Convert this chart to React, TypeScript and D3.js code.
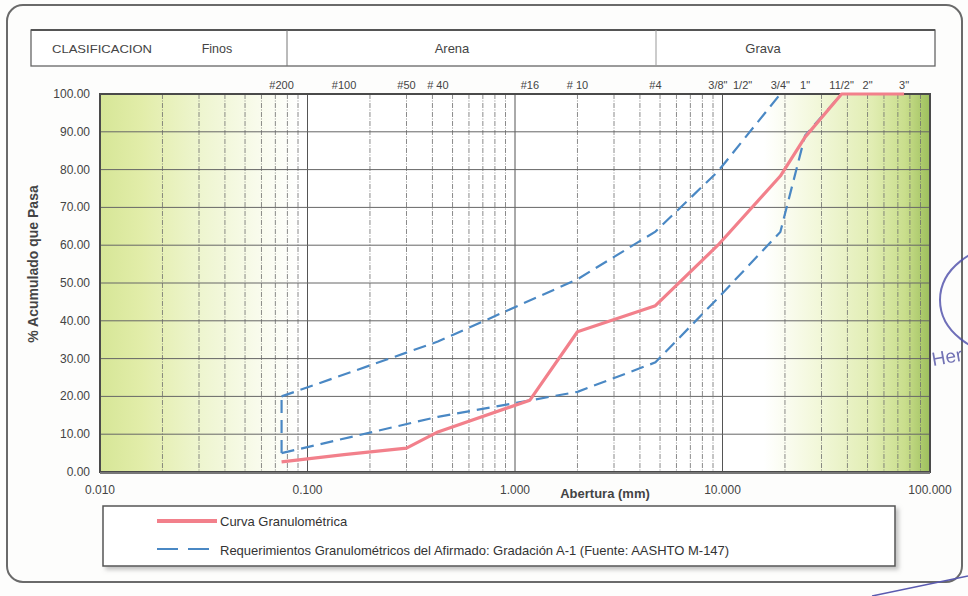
import React from "react";
import * as d3 from "d3";

const sieveLabels = ['#200', '#100', '#50', '# 40', '#16', '# 10', '#4', '3/8"', '1/2"', '3/4"', '1"', '11/2"', '2"', '3"'];
const sieveSizes = [0.075, 0.15, 0.3, 0.425, 1.18, 2.0, 4.75, 9.5, 12.5, 19, 25, 37.5, 50, 75];

const curveSizes = [0.075, 0.15, 0.3, 0.425, 1.18, 2.0, 4.75, 9.5, 19, 25, 37.5, 50, 75];
const curvePass = [2.7, 4.6, 6.3, 10.6, 19, 37.1, 44, 60, 78.3, 88.6, 100, 100, 100];

const upperSizes = [0.075, 0.425, 2.0, 4.75, 9.5, 19];
const upperPass = [20, 34.5, 51, 63.6, 79.5, 100];
const lowerSizes = [0.075, 0.425, 2.0, 4.75, 9.5, 19, 25, 37.5];
const lowerPass = [5, 14.6, 21.2, 29, 46, 63.5, 89, 100];
const closeSizes = [0.075, 0.075];
const closePass = [5, 20];

const yTicks = [0, 10, 20, 30, 40, 50, 60, 70, 80, 90, 100];
const xTicks = [0.01, 0.1, 1, 10, 100];
const xTickLabels = ["0.010", "0.100", "1.000", "10.000", "100.000"];

const classLabels = ["Finos", "Arena", "Grava"];
const legendLabels = ["Curva Granulométrica", "Requerimientos Granulométricos del Afirmado: Gradación A-1 (Fuente: AASHTO M-147)"];

const FONT = "'Liberation Sans', Arial, sans-serif";

export default function App() {
  const L = 100, R = 930, T = 94, B = 472;
  const x = d3.scaleLog().domain([0.01, 100]).range([L, R]);
  const y = d3.scaleLinear().domain([0, 100]).range([B, T]);

  const minor: number[] = [];
  [0.01, 0.1, 1, 10].forEach((d) => {
    for (let k = 2; k <= 9; k++) minor.push(k * d);
  });

  const line = d3
    .line<[number, number]>()
    .x((p) => x(p[0]))
    .y((p) => y(p[1]));

  const zip = (a: number[], b: number[]) => a.map((v, i) => [v, b[i]] as [number, number]);

  const red = "#f2808b";
  const blue = "#4a88c4";

  return (
    <svg
      width={968}
      height={596}
      style={{ position: "absolute", left: 0, top: 0, background: "#fdfdfc" }}
      fontFamily={FONT}
    >
      <defs>
        <linearGradient id="bg" x1="0" x2="1" y1="0" y2="0">
          <stop offset="0" stopColor="#d6e697" />
          <stop offset="0.05" stopColor="#e2eda9" />
          <stop offset="0.12" stopColor="#eef5cf" />
          <stop offset="0.2" stopColor="#fafcf0" />
          <stop offset="0.24" stopColor="#ffffff" />
          <stop offset="0.8" stopColor="#ffffff" />
          <stop offset="0.86" stopColor="#f3f8dc" />
          <stop offset="0.93" stopColor="#e1edb3" />
          <stop offset="0.97" stopColor="#c9de8c" />
          <stop offset="1" stopColor="#9dbf5c" />
        </linearGradient>
        <filter id="shadow" x="-5%" y="-20%" width="110%" height="150%">
          <feDropShadow dx="3" dy="3" stdDeviation="2" floodColor="#999" floodOpacity="0.6" />
        </filter>
      </defs>

      {/* outer border */}
      <rect x={7} y={5} width={955} height={577} rx={16} fill="none" stroke="#6a6a6a" strokeWidth={2} />

      {/* classification header */}
      <rect x={31} y={30} width={904} height={36} fill="#fff" stroke="#666" strokeWidth={1.3} />
      <line x1={31} x2={935} y1={30} y2={30} stroke="#555" strokeWidth={2} />
      <line x1={287} x2={287} y1={30} y2={66} stroke="#777" strokeWidth={1} />
      <line x1={656} x2={656} y1={30} y2={66} stroke="#999" strokeWidth={1} />
      <text x={52} y={53} fontSize={11} fill="#444" textLength={100} lengthAdjust="spacingAndGlyphs">CLASIFICACION</text>
      <text x={217} y={53} fontSize={12.5} fill="#444" textAnchor="middle">{classLabels[0]}</text>
      <text x={452} y={53} fontSize={13} fill="#444" textAnchor="middle">{classLabels[1]}</text>
      <text x={763} y={53} fontSize={13} fill="#444" textAnchor="middle">{classLabels[2]}</text>

      {/* sieve labels */}
      {sieveLabels.map((s, i) => (
        <text key={s} x={x(sieveSizes[i])} y={89} fontSize={11} fill="#444" textAnchor="middle">
          {s}
        </text>
      ))}

      {/* plot background */}
      <rect x={L} y={T} width={R - L} height={B - T} fill="url(#bg)" />

      {/* grid */}
      {minor.map((v) => (
        <line key={"m" + v} x1={x(v)} x2={x(v)} y1={T} y2={B} stroke="#6d6d6d" strokeWidth={0.8} strokeDasharray="5,1.5,1,1.5" />
      ))}
      {xTicks.map((v) => (
        <line key={"M" + v} x1={x(v)} x2={x(v)} y1={T} y2={B} stroke="#555" strokeWidth={1} />
      ))}
      {yTicks.map((v) => (
        <line key={"h" + v} x1={L} x2={R} y1={y(v)} y2={y(v)} stroke="#666" strokeWidth={1} />
      ))}

      {/* plot border */}
      <rect x={L} y={T} width={R - L} height={B - T} fill="none" stroke="#4a4a4a" strokeWidth={2} />
      <line x1={L} x2={R} y1={B + 1} y2={B + 1} stroke="#777" strokeWidth={2} />

      {/* requirement band */}
      <path d={line(zip(upperSizes, upperPass)) || ""} fill="none" stroke={blue} strokeWidth={2.2} strokeDasharray="13,7" />
      <path d={line(zip(lowerSizes, lowerPass)) || ""} fill="none" stroke={blue} strokeWidth={2.2} strokeDasharray="13,7" />
      <path d={line(zip(closeSizes, closePass)) || ""} fill="none" stroke={blue} strokeWidth={2.2} strokeDasharray="13,7" />

      {/* curve */}
      <path d={line(zip(curveSizes, curvePass)) || ""} fill="none" stroke={red} strokeWidth={3.2} strokeLinejoin="round" />

      {/* y ticks */}
      {yTicks.map((v) => (
        <text key={"yt" + v} x={90} y={y(v) + 4} fontSize={12} fill="#444" textAnchor="end">
          {v.toFixed(2)}
        </text>
      ))}
      {xTicks.map((v, i) => (
        <text key={"xt" + v} x={x(v)} y={494} fontSize={12} fill="#444" textAnchor="middle">
          {xTickLabels[i]}
        </text>
      ))}
      <text x={605} y={498} fontSize={13} fontWeight="bold" fill="#444" textAnchor="middle">Abertura (mm)</text>
      <text transform="translate(38,264) rotate(-90)" fontSize={14} fontWeight="bold" fill="#444" textAnchor="middle">
        % Acumulado que Pasa
      </text>

      {/* legend */}
      <rect x={103} y={506} width={792} height={60} fill="#fff" stroke="#555" strokeWidth={1.5} filter="url(#shadow)" />
      <line x1={157} x2={217} y1={521} y2={521} stroke={red} strokeWidth={4} />
      <text x={220} y={526} fontSize={13} fill="#333">{legendLabels[0]}</text>
      <line x1={157} x2={210} y1={549} y2={549} stroke={blue} strokeWidth={2} strokeDasharray="21,10" />
      <text x={220} y={555} fontSize={13} fill="#333">{legendLabels[1]}</text>

      {/* stamp remnants */}
      <ellipse cx={1010} cy={300} rx={70} ry={55} fill="none" stroke="#4b4ba8" strokeWidth={2} opacity={0.8} />
      <text x={933} y={366} fontSize={19} fill="#5a5aa8" opacity={0.85} transform="rotate(-10,933,366)">Her</text>
      <line x1={872} x2={968} y1={596} y2={576} stroke="#5a5ab0" strokeWidth={1.5} />
    </svg>
  );
}
